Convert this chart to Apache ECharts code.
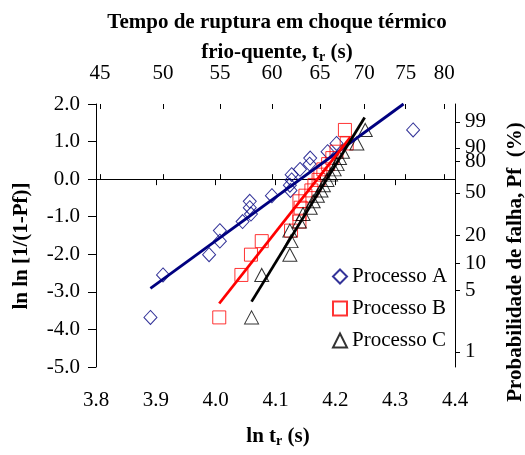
<!DOCTYPE html>
<html>
<head>
<meta charset="utf-8">
<script src="https://cdn.jsdelivr.net/npm/echarts@6/dist/echarts.min.js"></script>
<style>
  html, body { margin: 0; padding: 0; background: #fff; }
  #chart { width: 525px; height: 455px; }
</style>
</head>
<body>
<div id="chart"></div>
<script>
// ln tr (x) and ln ln[1/(1-Pf)] (y)
const lnLnPf = [-3.68, -2.55, -2.01, -1.65, -1.37, -1.13, -0.93, -0.76, -0.59, -0.44,
  -0.30, -0.16, -0.02, 0.12, 0.26, 0.40, 0.56, 0.73, 0.95, 1.31]

const lnTrA = [3.891, 3.912, 3.989, 4.007, 4.007, 4.045, 4.059, 4.057, 4.057, 4.094,
  4.125, 4.124, 4.127, 4.127, 4.141, 4.157, 4.158, 4.187, 4.202, 4.330]
const lnTrB = [4.006, 4.043, 4.059, 4.077, 4.126, 4.140, 4.140, 4.142, 4.140, 4.150,
  4.160, 4.165, 4.172, 4.175, 4.180, 4.188, 4.195, 4.202, 4.219, 4.216]
const lnTrC = [4.060, 4.077, 4.124, 4.126, 4.124, 4.140, 4.146, 4.158, 4.163, 4.170,
  4.176, 4.180, 4.186, 4.192, 4.198, 4.203, 4.207, 4.212, 4.236, 4.250]

// fitted lines, end points
const fitA = [[3.891, -2.91], [4.314, 2.0]]
const fitB = [[4.006, -3.31], [4.225, 1.11]]
const fitC = [[4.060, -3.26], [4.249, 1.64]]

const topTicks = [45, 50, 55, 60, 65, 70, 75, 80]      // tr (s)
const probTicks = [1, 5, 10, 20, 50, 80, 90, 99]       // Pf (%)

const names = ["Processo A", "Processo B", "Processo C"]
const colors = ["#000080", "#FF0000", "#000000"]
const symbols = ["diamond", "rect", "triangle"]

const font = "Liberation Serif"
const fs = 21
const topPos = topTicks.map((t) => Math.log(t))
const probPos = probTicks.map((p) => Math.log(-Math.log(1 - p / 100)))

const zip = (xs) => xs.map((x, i) => [x, lnLnPf[i]])

const chart = echarts.init(document.getElementById("chart"))

const scatter = (i, xs, size) => ({
  name: names[i],
  type: "scatter",
  xAxisIndex: 0,
  yAxisIndex: 0,
  data: zip(xs),
  symbol: symbols[i],
  symbolSize: size,
  itemStyle: { color: "rgba(0,0,0,0)", borderColor: colors[i], borderWidth: 1 },
  silent: true,
  z: 2,
})

const fitLine = (i, pts) => ({
  type: "line",
  xAxisIndex: 0,
  yAxisIndex: 0,
  data: pts,
  symbol: "none",
  lineStyle: { color: colors[i], width: 2.8 },
  silent: true,
  z: 3,
})

const subRich = { sub: { fontFamily: font, fontSize: 14, fontWeight: "bold", verticalAlign: "bottom", padding: [8, 0, 0, 0] } }

chart.setOption({
  animation: false,
  textStyle: { fontFamily: font },
  grid: { left: 96, right: 70, top: 104, bottom: 88 },
  xAxis: [
    {
      type: "value",
      position: "bottom",
      min: 3.8,
      max: 4.4,
      interval: 0.1,
      axisLine: { lineStyle: { color: "#000", width: 1 } },
      axisTick: { length: 6, lineStyle: { color: "#000" } },
      axisLabel: { color: "#000", fontSize: fs, fontFamily: font, margin: 23,
        formatter: (v) => v.toFixed(1) },
      splitLine: { show: false },
    },
    {
      type: "value",
      position: "top",
      min: 3.8,
      max: 4.4,
      axisLine: { lineStyle: { color: "#000", width: 1 } },
      axisTick: { length: 5, customValues: topPos, lineStyle: { color: "#000" } },
      axisLabel: { color: "#000", fontSize: fs, fontFamily: font, margin: 20, customValues: topPos,
        formatter: (v) => String(Math.round(Math.exp(v))) },
      splitLine: { show: false },
    },
    {
      type: "value",
      position: "top",
      min: 3.8,
      max: 4.4,
      axisLine: { show: false },
      axisTick: { inside: true, length: 5, customValues: topPos, lineStyle: { color: "#000" } },
      axisLabel: { show: false },
      splitLine: { show: false },
    },
  ],
  yAxis: [
    {
      type: "value",
      position: "left",
      min: -5,
      max: 2,
      interval: 1,
      axisLine: { show: true, lineStyle: { color: "#000", width: 1 } },
      axisTick: { show: true, length: 8, lineStyle: { color: "#000" } },
      axisLabel: { color: "#000", fontSize: fs, fontFamily: font, margin: 16,
        formatter: (v) => v.toFixed(1) },
      splitLine: { show: false },
    },
    {
      type: "value",
      position: "right",
      min: -5,
      max: 2,
      axisLine: { show: true, lineStyle: { color: "#000", width: 1 } },
      axisTick: { show: true, length: 5, customValues: probPos, lineStyle: { color: "#000" } },
      axisLabel: { color: "#000", fontSize: fs, fontFamily: font, margin: 10, customValues: probPos,
        formatter: (v) => String(Math.round(100 * (1 - Math.exp(-Math.exp(v))))) },
      splitLine: { show: false },
    },
  ],
  legend: {
    orient: "vertical",
    left: 327,
    top: 261,
    itemWidth: 14,
    itemHeight: 14,
    itemGap: 11,
    textStyle: { fontFamily: font, fontSize: fs, color: "#000" },
    data: names,
  },
  title: [
    {
      text: "Tempo de ruptura em choque térmico",
      left: 272,
      top: 7,
      textAlign: "center",
      textStyle: { fontFamily: font, fontSize: fs, fontWeight: "bold", color: "#000" },
    },
    {
      text: "frio-quente, t{sub|r} (s)",
      left: 272,
      top: 37,
      textAlign: "center",
      textStyle: { fontFamily: font, fontSize: fs, fontWeight: "bold", color: "#000", rich: subRich },
    },
    {
      text: "ln t{sub|r} (s)",
      left: 273,
      top: 421,
      textAlign: "center",
      textStyle: { fontFamily: font, fontSize: fs, fontWeight: "bold", color: "#000", rich: subRich },
    },
  ],
  graphic: [
    {
      type: "text",
      x: 22,
      y: 246,
      rotation: Math.PI / 2,
      style: {
        text: "ln ln [1/(1-Pf)]",
        fontFamily: font, fontSize: fs, fontWeight: "bold", fill: "#000",
        align: "center", verticalAlign: "middle",
      },
    },
    {
      type: "text",
      x: 516,
      y: 262,
      rotation: Math.PI / 2,
      style: {
        text: "Probabilidade de falha, Pf  (%)",
        fontFamily: font, fontSize: fs, fontWeight: "bold", fill: "#000",
        align: "center", verticalAlign: "middle",
      },
    },
  ],
  series: [
    scatter(0, lnTrA, [13, 14]),
    scatter(1, lnTrB, 13),
    scatter(2, lnTrC, [14, 13]),
    fitLine(0, fitA),
    fitLine(1, fitB),
    fitLine(2, fitC),
  ],
})
</script>
</body>
</html>
